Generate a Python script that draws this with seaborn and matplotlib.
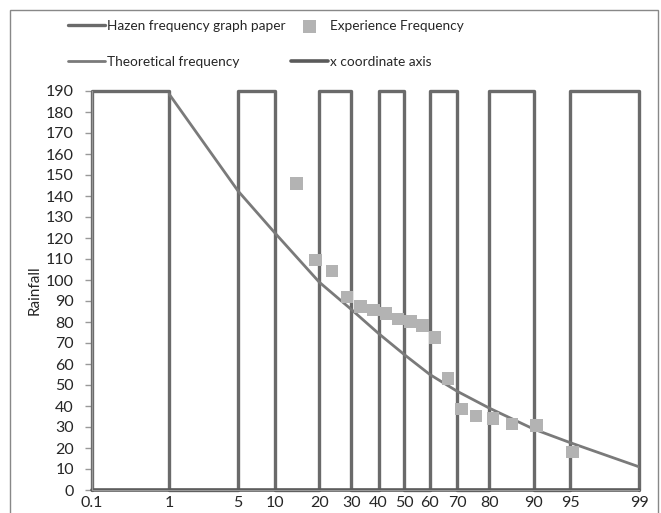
from statistics import NormalDist
import seaborn as sns
import matplotlib.pyplot as plt
from matplotlib.patches import Rectangle

# probability axis (percent) shown on Hazen paper
prob_ticks = [0.1, 1, 5, 10, 20, 30, 40, 50, 60, 70, 80, 90, 95, 99]
paper_boxes = [(0.1, 1), (5, 10), (20, 30), (40, 50), (60, 70), (80, 90), (95, 99)]
paper_top = 190

# theoretical frequency curve
theo_p = [1, 5, 10, 20, 30, 40, 50, 60, 70, 80, 90, 95, 99]
theo_rain = [188.5, 142.4, 122.5, 99, 86, 74.5, 64.5, 55, 47, 39, 29, 22.5, 11]

# experience frequency points
exp_p = [14.3, 19.0, 23.8, 28.6, 33.3, 38.1, 42.9, 47.6, 52.4, 57.1,
         61.9, 66.7, 71.4, 76.2, 81.0, 85.7, 90.5, 95.2]
exp_rain = [146, 109.5, 104.3, 91.8, 87.3, 85.7, 84.1, 81.3, 80.3, 78.3,
            72.7, 53.0, 38.7, 35.2, 34.1, 31.4, 30.8, 18.1]

nd = NormalDist()
def z(p):
    return nd.inv_cdf(p / 100.0)

# square wave outlining the paper boxes
paper_x, paper_y = [], []
for a, b in paper_boxes:
    paper_x += [z(a), z(a), z(b), z(b)]
    paper_y += [0, paper_top, paper_top, 0]

sns.set_style("white")
plt.rcParams['font.family'] = ['Lato', 'DejaVu Sans']

fig = plt.figure(figsize=(6.61, 5.13), dpi=100)
ax = fig.add_axes([92 / 661, 1 - 490 / 513, (639.3 - 92) / 661, (490 - 91) / 513])

sns.lineplot(x=paper_x, y=paper_y, sort=False, estimator=None, color='#6a6a6a', lw=2.4,
             ax=ax, clip_on=False, label='Hazen frequency graph paper')
sns.lineplot(x=[z(p) for p in theo_p], y=theo_rain, sort=False, estimator=None,
             color='#7a7a7a', lw=2.0, ax=ax, label='Theoretical frequency')
sns.scatterplot(x=[z(p) for p in exp_p], y=exp_rain, marker='s', s=80,
                color='#b3b3b3', edgecolor='none', ax=ax, zorder=5,
                label='Experience Frequency')
sns.lineplot(x=[z(prob_ticks[0]), z(prob_ticks[-1])], y=[0, 0], estimator=None,
             color='#5a5a5a', lw=2.6, ax=ax, clip_on=False, label='x coordinate axis')

ax.set_xlim(z(prob_ticks[0]), z(prob_ticks[-1]))
ax.set_ylim(0, paper_top)
ax.set_xticks([z(p) for p in prob_ticks])
ax.set_xticklabels([f'{p:g}' for p in prob_ticks])
ax.set_yticks(range(0, 191, 10))
ax.tick_params(axis='y', length=5, width=1, color='#999999', left=True, pad=8, labelsize=11.5)
ax.tick_params(axis='x', length=0, pad=4, labelsize=11.5)
for s in ['top', 'right']:
    ax.spines[s].set_visible(False)
ax.spines['left'].set_color('#999999')
ax.spines['bottom'].set_color('#999999')
ax.set_ylabel('Rainfall', fontsize=11, labelpad=3)
ax.set_xlabel('')

ax.get_legend().remove()
h, lab = ax.get_legend_handles_labels()
order = ['Hazen frequency graph paper', 'Theoretical frequency',
         'Experience Frequency', 'x coordinate axis']
hd = dict(zip(lab, h))
fig.legend([hd[k] for k in order], order, ncol=2, loc='upper left',
           bbox_to_anchor=(56 / 661, 1 - 8 / 513), frameon=False, fontsize=9.8,
           handlelength=2.7, columnspacing=0.4, labelspacing=1.75, handletextpad=0.15)

# outer chart border
fig.patches.append(Rectangle((10 / 661, -0.02), (658 - 10) / 661, 1 - 10 / 513 + 0.02,
                             transform=fig.transFigure, fill=False,
                             edgecolor='#888888', lw=1))

fig.savefig('out.png', dpi=100)
